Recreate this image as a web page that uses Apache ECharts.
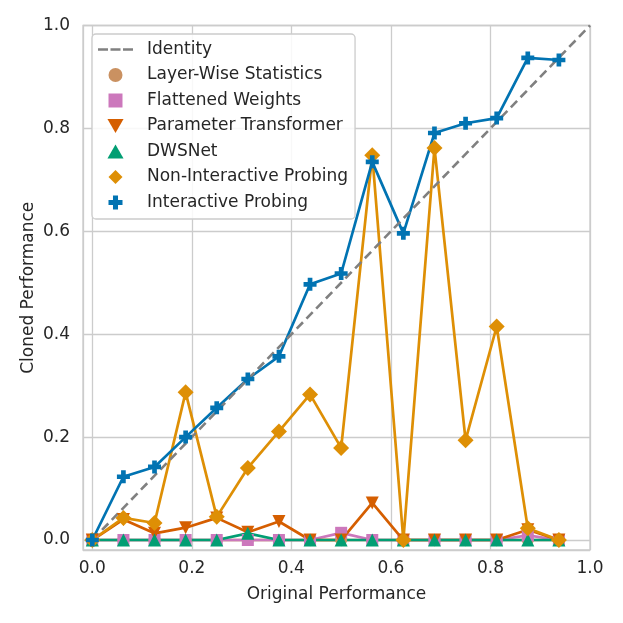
<!DOCTYPE html>
<html>
<head>
<meta charset="utf-8">
<script src="https://cdn.jsdelivr.net/npm/echarts@6/dist/echarts.min.js"></script>
<style>html,body{margin:0;padding:0;background:#fff}#c{width:623px;height:623px}</style>
</head>
<body>
<div id="c"></div>
<script>
const xs = [0, 0.0625, 0.125, 0.1875, 0.25, 0.3125, 0.375, 0.4375, 0.5, 0.5625, 0.625, 0.6875, 0.75, 0.8125, 0.875, 0.9375];
const layerWise = [0, 0, 0, 0, 0, 0, 0, 0, 0, 0, 0, 0, 0, 0, 0, 0];
const flattened = [0, 0, 0, 0, 0, 0, 0, 0, 0.014, 0, 0, 0, 0, 0, 0.009, 0];
const paramTransformer = [0, 0.040, 0.013, 0.024, 0.043, 0.015, 0.036, 0, 0, 0.072, 0, 0, 0, 0, 0.020, 0];
const dwsnet = [0, 0, 0, 0, 0, 0.013, 0, 0, 0, 0, 0, 0, 0, 0, 0, 0];
const nonInteractive = [0, 0.043, 0.033, 0.287, 0.045, 0.140, 0.211, 0.283, 0.179, 0.748, 0, 0.762, 0.194, 0.415, 0.023, 0];
const interactive = [0, 0.123, 0.142, 0.200, 0.257, 0.313, 0.357, 0.497, 0.518, 0.735, 0.596, 0.791, 0.810, 0.820, 0.937, 0.933];
const identity = [[0, 0], [1, 1]];
const tickValues = [0, 0.2, 0.4, 0.6, 0.8, 1.0];

const FONT = 'DejaVu Sans';
const TXT = '#262626';
const GRIDC = '#cccccc';
const plus = 'path://M3.2,0h3.6v3.2h3.2v3.6h-3.2v3.2h-3.6v-3.2h-3.2v-3.6h3.2z';
const triDown = 'path://M0,0L10,0L5,8.7z';
const triUp = 'path://M5,0L10,8.7L0,8.7z';
const square = 'path://M0,0h10v10h-10z';
const diamond = 'path://M5,0L10,5L5,10L0,5z';
const dash = 'path://M0,0h10v2.6h-10z M12.5,0h10v2.6h-10z M25,0h10v2.6h-10z';

function pts(arr) { return xs.map((x, i) => [x, arr[i]]); }
function fmt(v) {
  for (const t of tickValues) if (Math.abs(v - t) < 1e-6) return t.toFixed(1);
  return '';
}
function mk(name, arr, color, symbol, size) {
  return {
    name, type: 'line', data: pts(arr), color,
    symbol, symbolSize: size, showSymbol: true, clip: false,
    lineStyle: { width: 2.7, color },
    itemStyle: { color },
    emphasis: { disabled: true }
  };
}

const chart = echarts.init(document.getElementById('c'), null, { renderer: 'canvas' });
chart.setOption({
  animation: false,
  backgroundColor: '#fff',
  grid: { left: 83, right: 33, top: 25.5, bottom: 73, show: true, borderColor: GRIDC, borderWidth: 1.3, backgroundColor: 'transparent' },
  xAxis: {
    type: 'value', min: -0.0187, max: 1.0,
    name: 'Original Performance', nameLocation: 'middle', nameGap: 36,
    nameTextStyle: { fontFamily: FONT, fontSize: 17, color: TXT },
    axisLine: { show: false }, axisTick: { show: false },
    axisLabel: { formatter: fmt, fontFamily: FONT, fontSize: 17, color: TXT, margin: 10, showMinLabel: false },
    splitLine: { show: true, lineStyle: { color: GRIDC, width: 1.3 } }
  },
  yAxis: {
    type: 'value', min: -0.0194, max: 1.0,
    name: 'Cloned Performance', nameLocation: 'middle', nameGap: 46, nameMoveOverlap: false,
    nameTextStyle: { fontFamily: FONT, fontSize: 17, color: TXT },
    axisLine: { show: false }, axisTick: { show: false },
    axisLabel: { formatter: fmt, fontFamily: FONT, fontSize: 17, color: TXT, margin: 13, showMinLabel: false },
    splitLine: { show: true, lineStyle: { color: GRIDC, width: 1.3 } }
  },
  legend: {
    orient: 'vertical', left: 92, top: 34,
    padding: [5.5, 7, 6.5, 6],
    itemWidth: 35, itemHeight: 14, itemGap: 5.5,
    backgroundColor: 'rgba(255,255,255,0.85)', borderColor: GRIDC, borderWidth: 1.3, borderRadius: 4,
    textStyle: { fontFamily: FONT, fontSize: 17, color: TXT, lineHeight: 20, padding: [0, 0, 0, 9] },
    selectedMode: false,
    data: [
      { name: 'Identity', icon: dash },
      { name: 'Layer-Wise Statistics', icon: 'circle' },
      { name: 'Flattened Weights', icon: square },
      { name: 'Parameter Transformer', icon: triDown },
      { name: 'DWSNet', icon: triUp },
      { name: 'Non-Interactive Probing', icon: diamond },
      { name: 'Interactive Probing', icon: plus }
    ]
  },
  series: [
    mk('Layer-Wise Statistics', layerWise, '#ca9161', 'circle', 12),
    mk('Flattened Weights', flattened, '#cc78bc', square, 12),
    mk('Parameter Transformer', paramTransformer, '#d55e00', triDown, 13),
    mk('DWSNet', dwsnet, '#029e73', triUp, 13),
    mk('Non-Interactive Probing', nonInteractive, '#de8f05', diamond, 16),
    mk('Interactive Probing', interactive, '#0173b2', plus, 13),
    {
      name: 'Identity', type: 'line', data: identity, color: '#808080',
      symbol: 'none', lineStyle: { width: 2.6, type: [9, 5], color: '#808080' },
      itemStyle: { color: '#808080' }, emphasis: { disabled: true }
    }
  ]
});
</script>
</body>
</html>
